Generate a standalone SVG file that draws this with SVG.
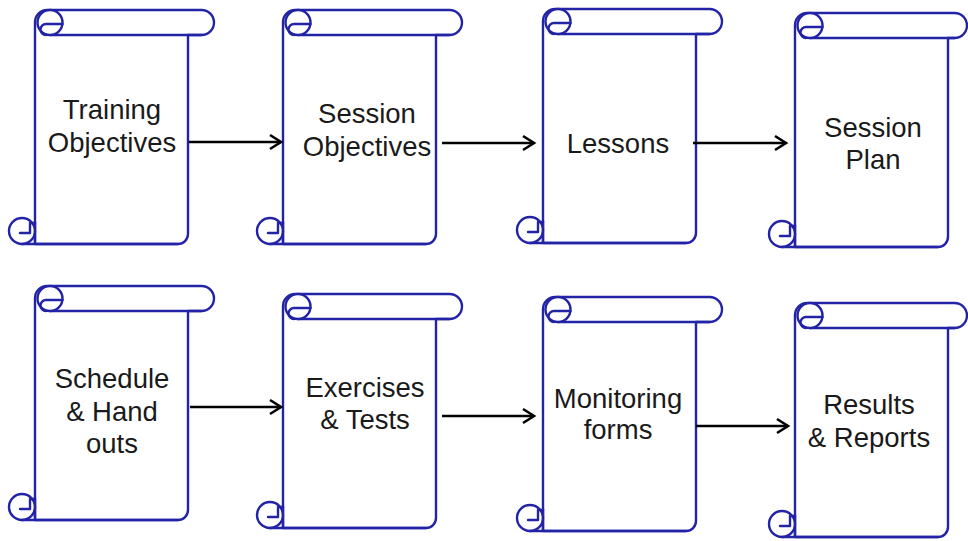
<svg xmlns="http://www.w3.org/2000/svg" xmlns:xlink="http://www.w3.org/1999/xlink" width="968" height="541" viewBox="0 0 968 541">
<style>
.sc{fill:#ffffff;stroke:#2323a6;stroke-width:2.4;stroke-linejoin:round;stroke-linecap:round}
.ln{fill:none;stroke:#2323a6;stroke-width:2.4;stroke-linejoin:round;stroke-linecap:round}
.t{font-family:"Liberation Sans",Arial,sans-serif;font-size:27.5px;fill:#1a1a1a;text-anchor:middle}
.edge{fill:none;stroke:#000;stroke-width:2.6}
</style>
<defs>
<marker id="arr" markerUnits="userSpaceOnUse" markerWidth="20" markerHeight="20" viewBox="-14 -10 16 20" refX="0" refY="0" orient="auto">
<path d="M-11,-7 L0,0 L-11,7" fill="none" stroke="#000" stroke-width="2.6" stroke-linejoin="miter"/>
</marker>
<g id="scroll">
<path class="sc" d="M0,234 V12 A12,12 0 0 1 12,0 H166.5 A12.5,12.5 0 0 1 166.5,25 H153 V224 A10,10 0 0 1 143,234 Z"/>
<path class="ln" d="M166.5,25 H15"/>
<circle class="sc" cx="15" cy="12.5" r="12.5"/>
<path class="ln" d="M27.5,14 H11 A5.5,5.5 0 0 0 11,25"/>
<circle class="sc" cx="-13" cy="221" r="13"/>
<path class="ln" d="M-13,234 H143 M0,212 V234"/>
<path class="ln" d="M-15,223 H-5 V213 H0"/>
</g>
<g id="scroll-s">
<path class="sc" d="M0,234 V12 A12,12 0 0 1 12,0 H159.5 A12.5,12.5 0 0 1 159.5,25 H153 V224 A10,10 0 0 1 143,234 Z"/>
<path class="ln" d="M159.5,25 H15"/>
<circle class="sc" cx="15" cy="12.5" r="12.5"/>
<path class="ln" d="M27.5,14 H11 A5.5,5.5 0 0 0 11,25"/>
<circle class="sc" cx="-13" cy="221" r="13"/>
<path class="ln" d="M-13,234 H143 M0,212 V234"/>
<path class="ln" d="M-15,223 H-5 V213 H0"/>
</g>
</defs>
<rect width="968" height="541" fill="#ffffff"/>
<g id="node-training-objectives">
<use xlink:href="#scroll" href="#scroll" transform="translate(35,10)"/>
<text class="t" x="112" y="119">Training</text>
<text class="t" x="112" y="152">Objectives</text>
</g>
<g id="node-session-objectives">
<use xlink:href="#scroll" href="#scroll" transform="translate(283,10)"/>
<text class="t" x="367" y="123">Session</text>
<text class="t" x="367" y="156">Objectives</text>
</g>
<g id="node-lessons">
<use xlink:href="#scroll" href="#scroll" transform="translate(543,9)"/>
<text class="t" x="618" y="153">Lessons</text>
</g>
<g id="node-session-plan">
<use xlink:href="#scroll-s" href="#scroll-s" transform="translate(795,13)"/>
<text class="t" x="873" y="137">Session</text>
<text class="t" x="873" y="169">Plan</text>
</g>
<g id="node-schedule">
<use xlink:href="#scroll" href="#scroll" transform="translate(35,286)"/>
<text class="t" x="112" y="388">Schedule</text>
<text class="t" x="112" y="421">&amp; Hand</text>
<text class="t" x="112" y="453">outs</text>
</g>
<g id="node-exercises">
<use xlink:href="#scroll" href="#scroll" transform="translate(283,294)"/>
<text class="t" x="365" y="397">Exercises</text>
<text class="t" x="365" y="429">&amp; Tests</text>
</g>
<g id="node-monitoring">
<use xlink:href="#scroll" href="#scroll" transform="translate(543,297)"/>
<text class="t" x="618" y="408">Monitoring</text>
<text class="t" x="618" y="439">forms</text>
</g>
<g id="node-results">
<use xlink:href="#scroll-s" href="#scroll-s" transform="translate(795,303)"/>
<text class="t" x="869" y="414">Results</text>
<text class="t" x="869" y="447">&amp; Reports</text>
</g>
<g id="connectors">
<path class="edge" d="M189,142 H281" marker-end="url(#arr)"/>
<path class="edge" d="M442,143 H534" marker-end="url(#arr)"/>
<path class="edge" d="M693,143 H786" marker-end="url(#arr)"/>
<path class="edge" d="M190,407 H281" marker-end="url(#arr)"/>
<path class="edge" d="M442,416 H534" marker-end="url(#arr)"/>
<path class="edge" d="M696,426 H788" marker-end="url(#arr)"/>
</g>
</svg>
